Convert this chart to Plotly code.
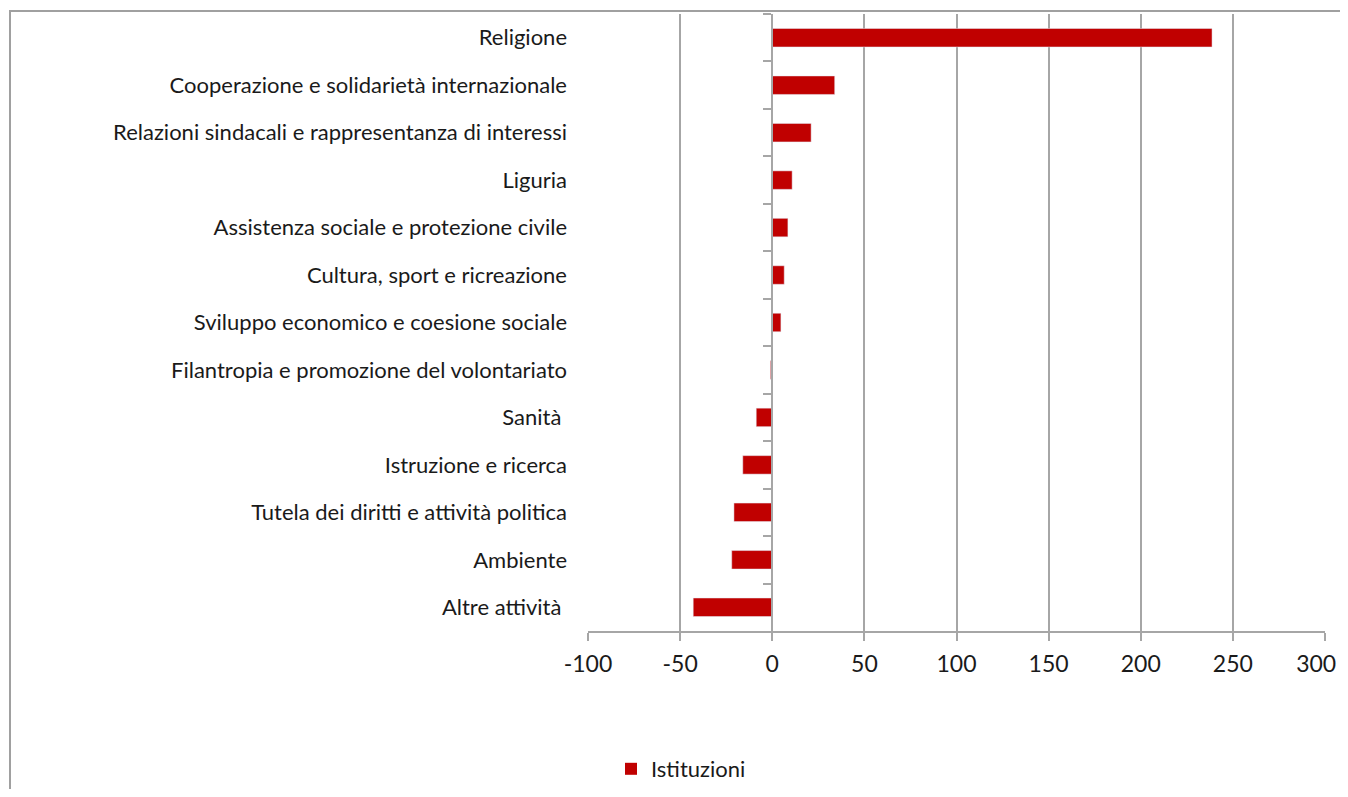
import plotly.graph_objects as go

categories = [
    "Religione",
    "Cooperazione e solidarietà internazionale",
    "Relazioni sindacali e rappresentanza di interessi",
    "Liguria",
    "Assistenza sociale e protezione civile",
    "Cultura, sport e ricreazione",
    "Sviluppo economico e coesione sociale",
    "Filantropia e promozione del volontariato",
    "Sanità ",
    "Istruzione e ricerca",
    "Tutela dei diritti e attività politica",
    "Ambiente",
    "Altre attività ",
]
values = [238.7, 33.9, 21.1, 10.8, 8.5, 6.5, 4.7, -1.0, -8.7, -16.0, -20.8, -22.0, -42.9]
series_name = "Istituzioni"
x_ticks = [-100, -50, 0, 50, 100, 150, 200, 250, 300]
x_tick_labels = ["-100", "-50", "0", "50", "100", "150", "200", "250", "300"]

# page body has an 8px margin: the figure is placed at (8, 8)
OFF = 8
W, H = 1348 - OFF, 797 - 2 * OFF
L = 588 - OFF
T = 14 - OFF
R = W - (1325 - OFF)
B = H - (631 - OFF)
pw, ph = W - L - R, H - T - B

FONT = "Lato"
GRAY = "#a6a6a6"
RED = "#C00000"
TXT = "#1a1a1a"

# the last label sits at the page edge: pad it with no-break spaces so it stays visible
shown_tick_labels = x_tick_labels[:-1] + [x_tick_labels[-1] + "\u00a0\u00a0\u00a0"]

fig = go.Figure()
fig.add_trace(go.Bar(
    y=categories, x=values, orientation="h", name=series_name,
    marker=dict(color=RED, line=dict(width=0)),
    xaxis="x", yaxis="y",
))
# invisible twin on the axis drawn at zero (carries the category tick marks)
fig.add_trace(go.Bar(
    y=categories, x=values, orientation="h", showlegend=False,
    marker=dict(color="rgba(0,0,0,0)"), hoverinfo="skip",
    xaxis="x", yaxis="y2",
))

x_min, x_max = x_ticks[0], x_ticks[-1]
zero_pos = (0 - x_min) / (x_max - x_min)

fig.update_layout(
    width=W, height=H,
    margin=dict(l=L, r=R, t=T, b=B, autoexpand=False),
    paper_bgcolor="white", plot_bgcolor="white",
    font=dict(family=FONT, size=22, color=TXT),
    bargap=0.61,
    showlegend=True,
    legend=dict(orientation="h", x=(603 - L) / pw, xanchor="left",
                y=(H - B - 761) / ph, yanchor="middle",
                font=dict(family=FONT, size=22, color=TXT),
                itemwidth=30, bgcolor="rgba(0,0,0,0)"),
    xaxis=dict(
        range=[x_min, x_max], tickvals=x_ticks, ticktext=shown_tick_labels,
        showgrid=True, gridcolor=GRAY, gridwidth=1.5,
        zeroline=False,
        showline=True, linecolor=GRAY, linewidth=1.5,
        ticks="outside", ticklen=8, tickcolor=GRAY, tickwidth=1.5,
        ticklabelstandoff=4, ticklabeloverflow="allow",
        tickfont=dict(family=FONT, size=23, color=TXT),
    ),
    yaxis=dict(
        type="category", categoryorder="array", categoryarray=categories,
        autorange="reversed",
        showgrid=False, zeroline=False, showline=False,
        ticks="", ticklabelstandoff=20,
        tickfont=dict(family=FONT, size=22, color=TXT),
    ),
    yaxis2=dict(
        type="category", categoryorder="array", categoryarray=categories,
        autorange="reversed", overlaying="y", anchor="free", position=zero_pos,
        side="left", showgrid=False, zeroline=False,
        showline=True, linecolor=GRAY, linewidth=2,
        ticks="outside", tickson="boundaries", ticklen=8, tickcolor=GRAY, tickwidth=1.5,
        showticklabels=False,
    ),
)

# outer chart frame (partially cropped in the reference)
fig.add_shape(type="rect", xref="paper", yref="paper",
              x0=(10 - OFF - L) / pw, x1=1.3, y0=-0.5, y1=(H - B - (11 - OFF)) / ph,
              line=dict(color="#a0a0a0", width=2), fillcolor="rgba(0,0,0,0)", layer="below")

fig.write_html("out.html")
